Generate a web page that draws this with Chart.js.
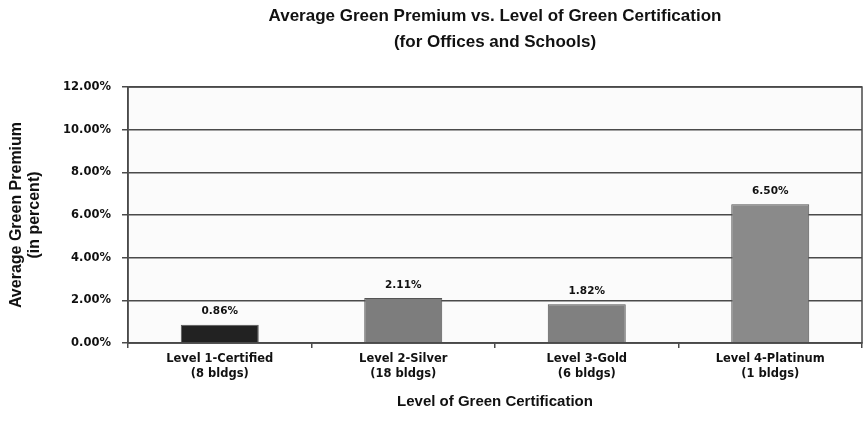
<!DOCTYPE html>
<html>
<head>
<meta charset="utf-8">
<script src="https://cdn.jsdelivr.net/npm/chart.js@4/dist/chart.umd.min.js"></script>
<style>
  html, body { margin: 0; padding: 0; background: #ffffff; }
  #wrap { width: 863px; height: 422px; }
</style>
</head>
<body>
<div id="wrap"><canvas id="premiumChart"></canvas></div>
<script>
var levels = [
    ["Level 1-Certified", "(8 bldgs)"],
    ["Level 2-Silver", "(18 bldgs)"],
    ["Level 3-Gold", "(6 bldgs)"],
    ["Level 4-Platinum", "(1 bldgs)"]
];
var premiums = [0.86, 2.11, 1.82, 6.50];
var barColors = ["#222222", "#7d7d7d", "#808080", "#8a8a8a"];
var yTicks = [0, 2, 4, 6, 8, 10, 12];

var FONT = "'Liberation Sans', Arial, sans-serif";
var WIDE = "'DejaVu Sans', Verdana, sans-serif";

// percentage text above each bar
var valueLabels = {
    id: "valueLabels",
    afterDatasetsDraw: function (chart) {
        var ctx = chart.ctx;
        var meta = chart.getDatasetMeta(0);
        ctx.save();
        ctx.font = "bold 10.5px " + WIDE;
        ctx.fillStyle = "#111111";
        ctx.textAlign = "center";
        ctx.textBaseline = "middle";
        meta.data.forEach(function (bar, i) {
            ctx.fillText(premiums[i].toFixed(2) + "%", bar.x, bar.y - 13);
        });
        ctx.restore();
    }
};

// frame around the plot area
var plotFrame = {
    id: "plotFrame",
    beforeDraw: function (chart) {
        var a = chart.chartArea;
        chart.ctx.save();
        chart.ctx.fillStyle = "#fbfbfb";
        chart.ctx.fillRect(a.left, a.top, a.right - a.left, a.bottom - a.top);
        chart.ctx.restore();
    },
    afterDraw: function (chart) {
        var a = chart.chartArea;
        var ctx = chart.ctx;
        ctx.save();
        ctx.strokeStyle = "#4a4a4a";
        ctx.lineWidth = 1.5;
        ctx.strokeRect(a.left, a.top, a.right - a.left, a.bottom - a.top);
        ctx.restore();
    }
};

new Chart(document.getElementById("premiumChart"), {
    type: "bar",
    data: {
        labels: levels,
        datasets: [{
            data: premiums,
            backgroundColor: barColors,
            borderColor: "#555555",
            borderWidth: 1,
            barPercentage: 0.425,
            categoryPercentage: 1
        }]
    },
    options: {
        responsive: true,
        maintainAspectRatio: false,
        animation: false,
        layout: { padding: { top: 0, right: 1, bottom: 0, left: 0 } },
        plugins: {
            legend: { display: false },
            tooltip: { enabled: false },
            title: {
                display: true,
                fullSize: false,
                text: ["Average Green Premium vs. Level of Green Certification", "(for Offices and Schools)"],
                color: "#111111",
                font: { family: FONT, size: 17, weight: "bold", lineHeight: 1.53 },
                padding: { top: 3, bottom: 32 }
            }
        },
        scales: {
            x: {
                afterFit: function (scale) { scale.height = 79; },
                grid: {
                    drawOnChartArea: false,
                    drawTicks: true,
                    tickLength: 5,
                    color: "#4a4a4a",
                    lineWidth: 1.5
                },
                border: { color: "#4a4a4a", width: 1.5 },
                ticks: {
                    color: "#111111",
                    padding: 4,
                    font: { family: WIDE, size: 11.5, weight: "bold", lineHeight: 1.25 }
                },
                title: {
                    display: true,
                    text: "Level of Green Certification",
                    color: "#111111",
                    font: { family: FONT, size: 15, weight: "bold", lineHeight: 1.2 },
                    padding: { top: 0, bottom: 11 }
                }
            },
            y: {
                min: 0,
                max: 12,
                afterFit: function (scale) { scale.width = 128; },
                afterBuildTicks: function (scale) {
                    scale.ticks = yTicks.map(function (v) { return { value: v }; });
                },
                grid: {
                    color: "#4a4a4a",
                    lineWidth: 1.5,
                    tickLength: 6
                },
                border: { color: "#4a4a4a", width: 1.5 },
                ticks: {
                    color: "#111111",
                    padding: 11,
                    font: { family: WIDE, size: 11.5, weight: "bold" },
                    callback: function (v) { return v.toFixed(2) + "%"; }
                },
                title: {
                    display: true,
                    text: ["Average Green Premium", "(in percent)"],
                    color: "#111111",
                    font: { family: FONT, size: 16, weight: "bold", lineHeight: 1.15 },
                    padding: { top: 7, bottom: 0 }
                }
            }
        }
    },
    plugins: [valueLabels, plotFrame]
});
</script>
</body>
</html>
